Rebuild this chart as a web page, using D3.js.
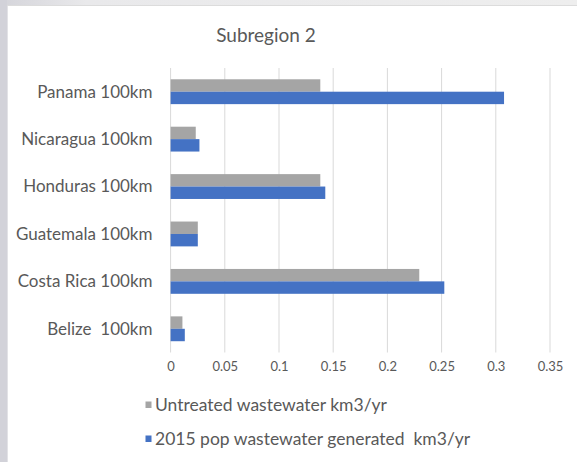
<!DOCTYPE html>
<html>
<head>
<meta charset="utf-8">
<script src="https://cdn.jsdelivr.net/npm/d3@7"></script>
<style>
  html, body { margin: 0; padding: 0; background: #fff; }
  svg { display: block; }
  text { font-family: Lato, "Open Sans", sans-serif; fill: #595959; white-space: pre; }
</style>
</head>
<body>
<svg id="chart" width="577" height="462"></svg>
<script>
const categories = ["Belize  100km", "Costa Rica 100km", "Guatemala 100km", "Honduras 100km", "Nicaragua 100km", "Panama 100km"];
const untreated = [0.0109, 0.2294, 0.0251, 0.1381, 0.0232, 0.1381];
const generated = [0.0131, 0.2525, 0.0251, 0.1427, 0.0266, 0.3076];
const seriesNames = ["Untreated wastewater km3/yr", "2015 pop wastewater generated  km3/yr"];
const seriesColors = ["#a5a5a5", "#4472c4"];
const xTicks = [0, 0.05, 0.1, 0.15, 0.2, 0.25, 0.3, 0.35];
const title = "Subregion 2";

const svg = d3.select("#chart");

// window frame
svg.append("rect").attr("x", 0).attr("y", 0).attr("width", 577).attr("height", 462).attr("fill", "#fff");
const grad = svg.append("defs").append("linearGradient").attr("id", "topg").attr("x1", "0").attr("x2", "1");
grad.append("stop").attr("offset", "0").attr("stop-color", "#d4d4da");
grad.append("stop").attr("offset", "0.15").attr("stop-color", "#e9e9eb");
grad.append("stop").attr("offset", "1").attr("stop-color", "#eeeeee");
svg.append("rect").attr("x", 0).attr("y", 0).attr("width", 577).attr("height", 6).attr("fill", "url(#topg)");
svg.append("line").attr("x1", 7).attr("x2", 577).attr("y1", 5.5).attr("y2", 5.5).attr("stroke", "#dcdcdc");
svg.append("rect").attr("x", 0).attr("y", 0).attr("width", 7).attr("height", 462).attr("fill", "#d2d2d9");
svg.append("line").attr("x1", 7.5).attr("x2", 7.5).attr("y1", 6).attr("y2", 462).attr("stroke", "#e2e2e6");

const x = d3.scaleLinear().domain([0, 0.35]).range([170.6, 550]);
const order = categories.slice().reverse();
const y = d3.scaleBand().domain(order).range([68, 352.5]).paddingInner(0.476).paddingOuter(0.238);

// title
svg.append("text").attr("x", 266).attr("y", 42).attr("text-anchor", "middle")
  .style("font-size", "19px").text(title);

// gridlines
svg.append("g").selectAll("line").data(xTicks).join("line")
  .attr("x1", d => x(d)).attr("x2", d => x(d))
  .attr("y1", 68).attr("y2", 352.5)
  .attr("stroke", "#d9d9d9").attr("stroke-width", 1);

// x axis labels via d3 axis
const xAxis = d3.axisBottom(x).tickValues(xTicks).tickSize(0).tickPadding(0)
  .tickFormat(d => d === 0 ? "0" : String(+d.toFixed(2)));
const gx = svg.append("g").attr("transform", "translate(0,362)").call(xAxis);
gx.select(".domain").remove();
gx.selectAll("text").attr("dy", "0.71em").style("font-size", "13px").style("font-family", "Lato, sans-serif").attr("fill", "#595959");

// y labels
const yAxis = d3.axisLeft(y).tickSize(0).tickPadding(0);
const gy = svg.append("g").attr("transform", "translate(152.5,0)").call(yAxis);
gy.select(".domain").remove();
gy.selectAll("text").attr("dy", "0.35em").style("font-size", "17px").style("font-family", "Lato, sans-serif").style("white-space", "pre").attr("fill", "#595959");

// bars
const bw = y.bandwidth() / 2;
const data = categories.map((c, i) => ({ c, u: untreated[i], g: generated[i] }));
const bars = svg.append("g");
bars.selectAll("rect.u").data(data).join("rect").attr("class", "u")
  .attr("x", x(0)).attr("y", d => y(d.c))
  .attr("width", d => x(d.u) - x(0)).attr("height", bw)
  .attr("fill", seriesColors[0]);
bars.selectAll("rect.g").data(data).join("rect").attr("class", "g")
  .attr("x", x(0)).attr("y", d => y(d.c) + bw)
  .attr("width", d => x(d.g) - x(0)).attr("height", bw)
  .attr("fill", seriesColors[1]);

// legend
const legY = [405, 439];
const leg = svg.append("g");
seriesNames.forEach((name, i) => {
  leg.append("rect").attr("x", 145.5).attr("y", legY[i] - 3.5).attr("width", 6).attr("height", 6.5).attr("fill", seriesColors[i]);
  leg.append("text").attr("x", 155).attr("y", legY[i]).attr("dy", "0.35em")
    .style("font-size", "17.5px").text(name);
});
</script>
</body>
</html>
